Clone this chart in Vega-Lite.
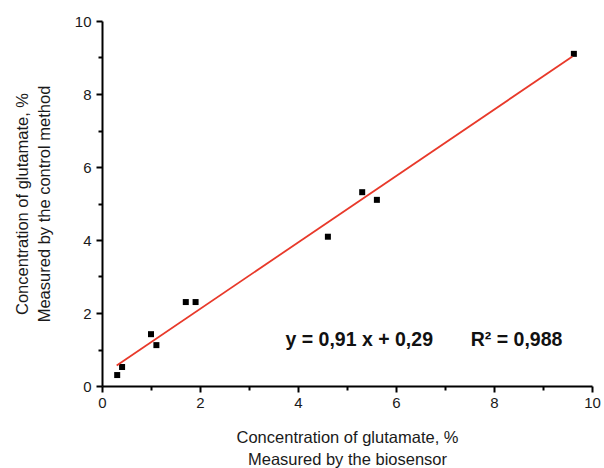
{
  "$schema": "https://vega.github.io/schema/vega-lite/v6.json",
  "width": 490,
  "height": 365,
  "autosize": "none",
  "padding": {"left": 102, "top": 21, "right": 12, "bottom": 82},
  "background": "white",
  "config": {
    "view": {"stroke": null},
    "font": "Liberation Sans",
    "axis": {
      "domainColor": "black",
      "domainWidth": 2,
      "tickColor": "black",
      "tickWidth": 2,
      "grid": false,
      "labelFlush": false,
      "labelColor": "#1a1a1a",
      "titleColor": "#1a1a1a",
      "labelFont": "Liberation Sans",
      "titleFont": "Liberation Sans",
      "labelFontSize": 15,
      "titleFontSize": 16.5,
      "titleFontWeight": "normal"
    }
  },
  "datasets": {
    "points": [
      {"x": 0.31, "y": 0.30},
      {"x": 0.41, "y": 0.52},
      {"x": 1.00, "y": 1.42},
      {"x": 1.11, "y": 1.12},
      {"x": 1.71, "y": 2.30},
      {"x": 1.91, "y": 2.30},
      {"x": 4.61, "y": 4.09},
      {"x": 5.31, "y": 5.31},
      {"x": 5.61, "y": 5.10},
      {"x": 9.63, "y": 9.10}
    ],
    "fit": [
      {"x": 0.30, "y": 0.563},
      {"x": 9.60, "y": 9.026}
    ],
    "label": [
      {"x": 5.25, "y": 1.26, "text": "y = 0,91 x + 0,29"},
      {"x": 8.46, "y": 1.26, "text": "R² = 0,988"}
    ]
  },
  "resolve": {"axis": {"x": "independent", "y": "independent"}},
  "layer": [
    {
      "data": {"name": "points"},
      "mark": {"type": "point", "shape": "square", "filled": true, "color": "black", "size": 36, "opacity": 1},
      "encoding": {
        "x": {"field": "x", "type": "quantitative",
          "scale": {"domain": [0, 10], "nice": false, "zero": false},
          "axis": {"orient": "bottom", "values": [0, 2, 4, 6, 8, 10], "tickSize": 6, "labelPadding": 3,
            "title": ["Concentration of glutamate, %", "Measured by the biosensor"], "titlePadding": 19, "titleLineHeight": 22}},
        "y": {"field": "y", "type": "quantitative",
          "scale": {"domain": [0, 10], "nice": false, "zero": false},
          "axis": {"orient": "left", "values": [0, 2, 4, 6, 8, 10], "tickSize": 6, "labelPadding": 5,
            "title": ["Concentration of glutamate, %", "Measured by the control method"], "titlePadding": 22, "titleLineHeight": 22}}
      }
    },
    {
      "data": {"name": "fit"},
      "mark": {"type": "line", "color": "#e8392a", "strokeWidth": 1.8},
      "encoding": {
        "x": {"field": "x", "type": "quantitative",
          "axis": {"orient": "bottom", "values": [1, 3, 5, 7, 9], "labels": false, "tickSize": 4, "domain": false, "title": null}},
        "y": {"field": "y", "type": "quantitative",
          "axis": {"orient": "left", "values": [1, 3, 5, 7, 9], "labels": false, "tickSize": 4, "domain": false, "title": null}}
      }
    },
    {
      "data": {"name": "label"},
      "mark": {"type": "text", "fontSize": 19.5, "fontWeight": "bold", "color": "#111", "font": "Liberation Sans", "align": "center", "baseline": "middle"},
      "encoding": {
        "x": {"field": "x", "type": "quantitative", "axis": null},
        "y": {"field": "y", "type": "quantitative", "axis": null},
        "text": {"field": "text"}
      }
    }
  ]
}
